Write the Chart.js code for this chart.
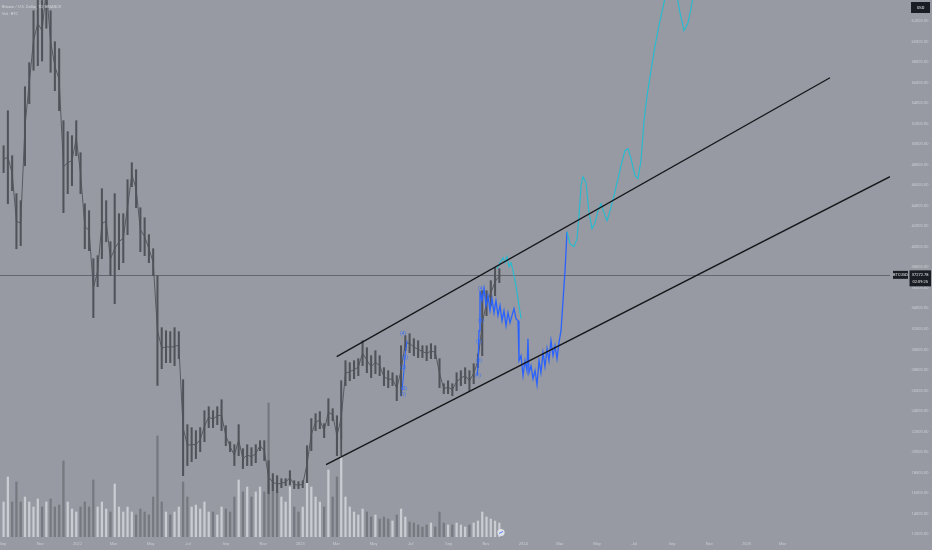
<!DOCTYPE html>
<html>
<head>
<meta charset="utf-8">
<script src="https://cdn.jsdelivr.net/npm/chart.js@4.4.1/dist/chart.umd.min.js"></script>
<style>
    html, body { margin: 0; padding: 0; background: #979aa2; }
    #wrap { width: 932px; height: 550px; position: relative; }
</style>
</head>
<body>
<div id="wrap"><canvas id="grafico"></canvas></div>
<script>
// all x values are days counted from 2021-09-01
const firstWeekDay = 1;          // weekly bars sit mid-week, one every 7 days
const weekHigh = [
    49850, 53260, 48880, 45180, 44500, 55600, 57940, 63000, 65900, 64000,
    69000, 63000, 59980, 59300, 52290, 51220, 50830, 52290, 49170, 44200,
    43520, 38850, 39140, 45670, 44500, 40500, 45180, 43230, 43230, 46540,
    48200, 47520, 43810, 42840, 41190, 39820, 37190, 32130, 31830, 31740,
    32130, 31740, 27060, 22680, 22390, 22100, 22390, 24040, 24430, 24040,
    24430, 25110, 22580, 21020, 20730, 22680, 20340, 20730, 20440, 20730,
    21120, 21120, 19180, 17910, 17710, 17420, 17420, 18200, 17220, 17130,
    17220, 20630, 23270, 23750, 23950, 22780, 25210, 24240, 23550, 26960,
    28910, 28720, 28910, 29110, 30860, 30180, 29400, 29890, 29400, 28230,
    27940, 27740, 27450, 30370, 31350, 31540, 31060, 30860, 30370, 30370,
    30570, 30370, 29110, 26670, 26960, 26670, 27740, 27940, 28230, 27940,
    28620, 29600, 35730, 35730, 36700, 37970, 37870
];
const weekLow = [
    47230, 44200, 45470, 39820, 40120, 47900, 53950, 57200, 57650, 58100,
    61300, 57000, 55210, 53260, 43330, 45180, 45960, 48880, 45180, 39820,
    39630, 33100, 36120, 38850, 40500, 37190, 34460, 37780, 38460, 41190,
    45860, 43810, 39530, 39140, 38460, 37190, 26500, 28130, 28720, 28720,
    28430, 29110, 17710, 18690, 19080, 19370, 20050, 21020, 22390, 22390,
    22680, 22100, 20630, 20050, 18690, 19660, 18400, 18690, 18690, 18980,
    20150, 19180, 15960, 16250, 16060, 16540, 16740, 16830, 16450, 16450,
    16540, 17030, 20150, 22100, 22290, 21410, 22580, 23070, 19660, 19660,
    26480, 26960, 27160, 27450, 28430, 27740, 27260, 27650, 27450, 26480,
    26280, 26480, 25020, 25500, 29890, 29690, 29400, 29210, 29210, 28910,
    29110, 29110, 26280, 25700, 25700, 25500, 25990, 26480, 26670, 25990,
    26670, 28230, 29400, 33300, 34270, 35240, 36510
];
// volume, thousand BTC
const weekVolume = [
    70, 120, 70, 110, 70, 80, 70, 60, 76, 60,
    70, 76, 60, 64, 152, 70, 56, 50, 60, 70,
    60, 114, 60, 70, 56, 50, 106, 60, 50, 60,
    50, 44, 56, 50, 44, 80, 202, 70, 50, 44,
    50, 60, 110, 80, 60, 64, 56, 70, 50, 50,
    44, 60, 56, 50, 80, 114, 90, 100, 80, 90,
    100, 90, 268, 114, 90, 80, 70, 100, 60, 50,
    60, 108, 100, 80, 70, 60, 134, 80, 120, 194,
    80, 60, 50, 44, 56, 50, 40, 44, 36, 40,
    36, 32, 44, 56, 40, 30, 28, 24, 20, 24,
    28, 20, 50, 28, 24, 24, 28, 24, 20, 24,
    28, 32, 50, 40, 36, 32, 28
];

// blue projected path
const blueDays = [776.4, 778.0, 779.7, 781.3, 784.6, 787.9, 791.2, 794.4, 797.7, 801.0, 804.3, 807.5, 810.8, 814.1, 817.4, 820.6, 823.9, 827.2, 830.5, 833.7, 837.0, 840.3, 843.6, 845.2, 848.5, 851.8, 855.0, 858.3, 859.9, 861.6, 864.9, 868.1, 871.4, 874.7, 878.0, 881.2, 884.5, 887.8, 891.1, 894.3, 897.6, 900.9, 904.2, 907.5, 910.7, 914.0, 917.3, 920.6, 923.8];
const bluePrices = [27452, 28231, 31835, 35731, 34757, 35926, 34270, 35244, 33783, 34952, 33588, 34757, 33296, 34270, 32809, 33783, 32322, 33588, 32614, 33296, 33977, 33004, 32809, 28913, 29400, 27452, 28913, 27939, 31056, 27744, 28426, 27160, 27939, 26575, 28913, 27744, 29692, 28329, 30082, 28913, 30861, 29400, 30374, 29108, 30666, 31835, 34757, 37679, 41478];
const waveDays = [653.6, 656.8, 658.5, 661.8];
const wavePrices = [25991, 27939, 29400, 30861];

// cyan projections
const cyanDaysA = [809.2, 814.1, 819.0, 822.3, 825.6, 828.8, 832.1, 835.4, 840.3, 845.2, 848.5];
const cyanPricesA = [37874, 38458, 38945, 38458, 39043, 38069, 38458, 37679, 36218, 34270, 33004];
const cyanDaysB = [923.8, 928.7, 935.3, 940.2, 943.5, 946.8, 950.0, 954.9, 959.9, 964.8, 969.7, 974.6, 979.5, 984.4, 989.4, 994.3, 1000.8, 1007.4, 1012.3, 1018.8, 1023.8, 1028.7, 1035.2, 1040.1, 1045.0, 1050.0, 1054.9, 1061.4, 1068.0, 1076.2, 1082.7, 1089.3, 1102.4, 1108.9, 1115.5, 1122.0, 1126.9, 1131.9];
const cyanPricesB = [41478, 40309, 40017, 40796, 43036, 45958, 46835, 46250, 43328, 41770, 42355, 43523, 44205, 43328, 42549, 43523, 44984, 46641, 47906, 49367, 49562, 48588, 46933, 46641, 48393, 52289, 54724, 57159, 59594, 62029, 63782, 65438, 64951, 62808, 61055, 61834, 63198, 64951];

// channel
const upperDays = [546.6, 1354.6];
const upperPrices = [29303, 56477];
const lowerDays = [529.1, 1452.9];
const lowerPrices = [18783, 46835];

const lastPrice = 37272.78;

// wave count labels
const waveTexts = ["(4)", "(5)", "(2)", "(3)", "(1)", "(4)", "(5)", "(3)", "(2)", "(1)"];
const waveTextDays = [655.2, 658.5, 655.2, 656.8, 655.2, 783.0, 783.0, 779.7, 779.7, 778.0];
const waveTextPrices = [31543, 29205, 28231, 26186, 25601, 35926, 32809, 30764, 28913, 27452];

// axis labels
const priceTicks = [62000, 60000, 58000, 56000, 54000, 52000, 50000, 48000, 46000, 44000, 42000, 40000, 38000, 36000, 34000, 32000, 30000, 28000, 26000, 24000, 22000, 20000, 18000, 16000, 14000, 12000];
const monthTickDays = [0, 61, 122, 181, 242, 303, 365, 426, 487, 546, 607, 668, 730, 791, 852, 912, 973, 1034, 1096, 1157, 1218, 1277];
const monthTickLabels = ["Sep", "Nov", "2022", "Mar", "May", "Jul", "Sep", "Nov", "2023", "Mar", "May", "Jul", "Sep", "Nov", "2024", "Mar", "May", "Jul", "Sep", "Nov", "2025", "Mar"];

const FONT = "Roboto, 'Liberation Sans', sans-serif";
const toPts = (xs, ys) => xs.map((x, i) => ({ x: x, y: ys[i] }));

const weekDays = weekHigh.map((_, i) => firstWeekDay + 7 * i);
const velas = weekDays.map((d, i) => ({ x: d, y: [weekLow[i], weekHigh[i]] }));
const volumen = weekDays.map((d, i) => ({ x: d, y: weekVolume[i] }));
const volColors = weekDays.map((d, i) => {
    if (i === 0) return "rgba(214,216,221,0.8)";
    const mid = (weekHigh[i] + weekLow[i]) / 2, prev = (weekHigh[i - 1] + weekLow[i - 1]) / 2;
    return mid >= prev ? "rgba(214,216,221,0.8)" : "rgba(110,113,120,0.8)";
});

const lineDs = (data, color, width, order) => ({
    type: "line", data: data, borderColor: color, borderWidth: width,
    pointRadius: 0, fill: false, tension: 0, order: order, yAxisID: "y"
});

// --- fondo, ejes y etiquetas dibujados a mano ---
const decoracion = {
    id: "decoracion",
    beforeDraw(chart) {
        const c = chart.ctx;
        c.save();
        c.fillStyle = "#979aa2";
        c.fillRect(0, 0, chart.width, chart.height);
        c.restore();
    },
    beforeDatasetsDraw(chart) {
        const c = chart.ctx, ys = chart.scales.y, a = chart.chartArea;
        const py = Math.round(ys.getPixelForValue(lastPrice)) + 0.5;
        c.save();
        c.strokeStyle = "rgba(95,98,106,0.9)";
        c.lineWidth = 1;
        c.beginPath(); c.moveTo(a.left, py); c.lineTo(a.right, py); c.stroke();
        c.restore();
    },
    afterDraw(chart) {
        const c = chart.ctx, xs = chart.scales.x, ys = chart.scales.y, a = chart.chartArea;
        c.save();
        c.font = "4px " + FONT;
        c.fillStyle = "#c9ccd3";
        c.textAlign = "center";
        c.textBaseline = "middle";
        priceTicks.forEach(v => c.fillText(v.toFixed(2), 920, ys.getPixelForValue(v)));
        monthTickDays.forEach((d, i) => c.fillText(monthTickLabels[i], xs.getPixelForValue(d), 543.5));

        // titulo
        c.textAlign = "left";
        c.fillStyle = "#d3d5da";
        c.fillText("Bitcoin / U.S. Dollar, 1D, BINANCE", 2, 6.5);
        c.fillText("Vol · BTC", 2, 14);

        // wave labels
        c.fillStyle = "#2f6bff";
        c.textAlign = "center";
        c.font = "4.5px " + FONT;
        waveTexts.forEach((t, i) => c.fillText(t, xs.getPixelForValue(waveTextDays[i]), ys.getPixelForValue(waveTextPrices[i])));

        // price label
        const py = ys.getPixelForValue(lastPrice);
        c.fillStyle = "#1b1d24";
        c.fillRect(893, py - 4, 15, 8);
        c.fillRect(909.5, py - 4.5, 21.5, 16);
        c.fillRect(911, 2, 19, 11);
        c.fillStyle = "#e6e8ec";
        c.font = "4px " + FONT;
        c.fillText("BTCUSD", 900.5, py);
        c.fillText(lastPrice.toFixed(2), 920.2, py);
        c.fillText("02:09:25", 920.2, py + 7);
        c.fillText("USD", 920.5, 7.5);

        // scroll icon
        c.beginPath();
        c.arc(501, 532.5, 3.6, 0, Math.PI * 2);
        c.fillStyle = "#dfe2e8";
        c.fill();
        c.strokeStyle = "#2962ff";
        c.lineWidth = 0.8;
        c.beginPath(); c.moveTo(499, 533.5); c.lineTo(503, 531.5); c.stroke();
        c.restore();
    }
};

new Chart(document.getElementById("grafico"), {
    type: "bar",
    data: {
        datasets: [
            {
                type: "bar", data: volumen, yAxisID: "yVol", backgroundColor: volColors,
                barThickness: 1.6, grouped: false, order: 10
            },
            {
                type: "bar", data: velas, yAxisID: "y", backgroundColor: "#50535a",
                barThickness: 1.4, grouped: false, order: 8
            },
            lineDs(toPts(weekDays, weekHigh.map((h, i) => (h + weekLow[i]) / 2)), "rgba(80,83,90,0.9)", 1, 7),
            lineDs(toPts(blueDays, bluePrices), "#2962ff", 1.3, 4),
            lineDs(toPts(waveDays, wavePrices), "#2962ff", 1, 4),
            lineDs(toPts(cyanDaysA, cyanPricesA), "#22bcd2", 1.1, 3),
            lineDs(toPts(cyanDaysB, cyanPricesB), "#22bcd2", 1.1, 3),
            lineDs(toPts(upperDays, upperPrices), "#15161a", 1.3, 1),
            lineDs(toPts(lowerDays, lowerPrices), "#15161a", 1.3, 1)
        ]
    },
    options: {
        responsive: true,
        maintainAspectRatio: false,
        animation: false,
        events: [],
        layout: { padding: { left: 0, top: 0, right: 42, bottom: 13 } },
        plugins: { legend: { display: false }, tooltip: { enabled: false } },
        scales: {
            x: { type: "linear", display: false, offset: false, min: -4.91, max: 1452.9 },
            y: { type: "linear", display: false, min: 11737, max: 64046 },
            yVol: { type: "linear", display: false, min: 0, max: 1074 }
        }
    },
    plugins: [decoracion]
});
</script>
</body>
</html>
